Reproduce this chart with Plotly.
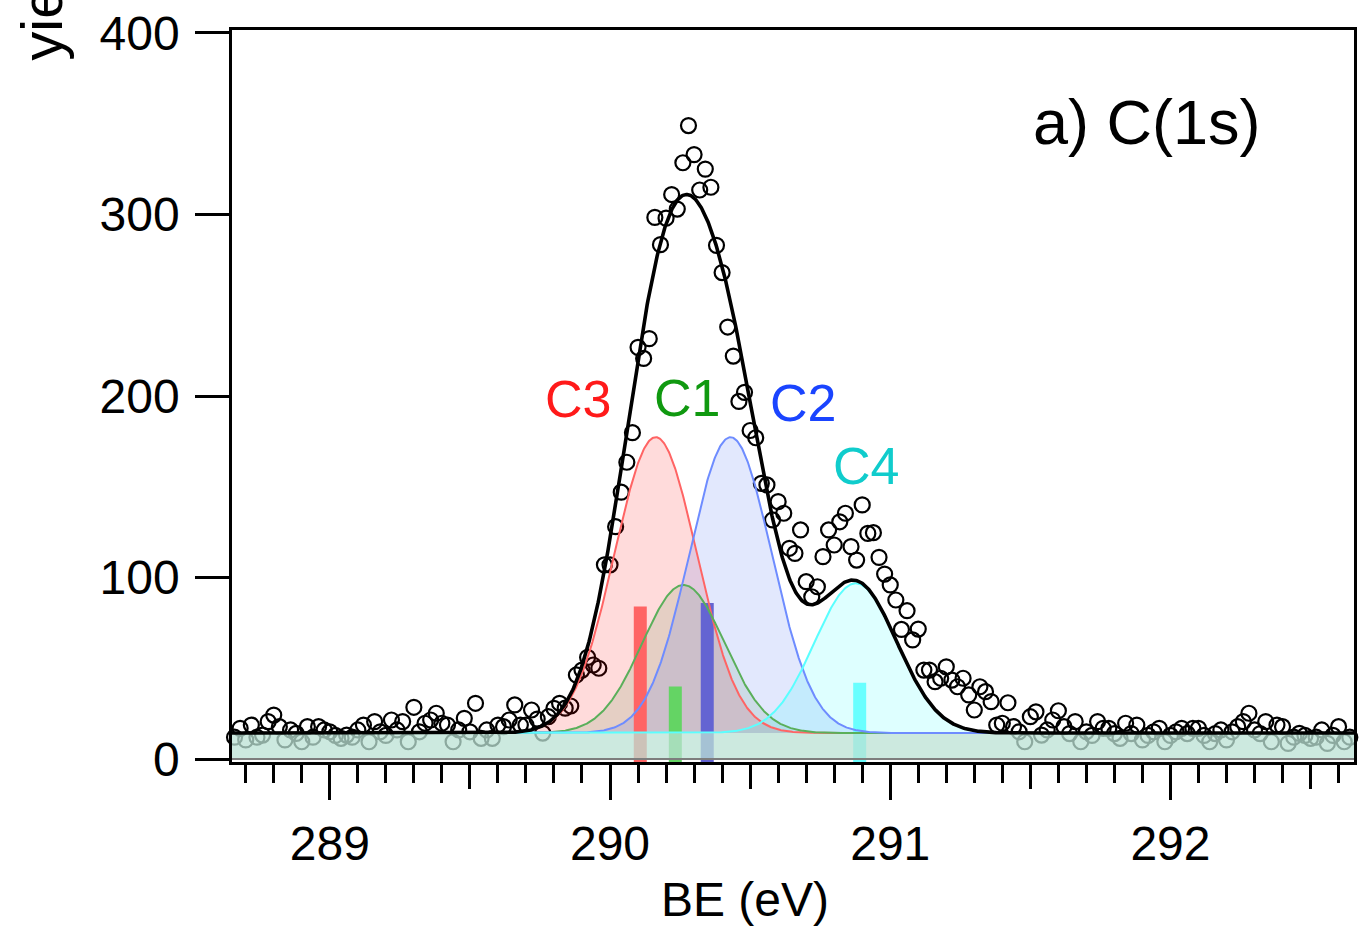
import numpy as np
import plotly.graph_objects as go

# ---------------- data ----------------
BE_START = 288.64      # eV, first data channel
BE_STEP = 0.02         # eV per channel
yield_counts = [
    8.6, 12, 16.9, 10.5, 18.7, 12, 13.2, 20.6, 24.2, 17.8,
    10.5, 16, 14.1, 9.5, 17.8, 12, 17.8, 16, 15, 13,
    11.4, 13.2, 12, 16, 18.7, 9.5, 20.6, 15, 13, 21.5,
    16, 20.6, 9.5, 28.5, 15, 19.7, 21.5, 25.2, 19.7, 18.7,
    9.5, 16, 22.4, 15, 30.7, 11.4, 16, 11.4, 18.7, 17.8,
    21.5, 29.8, 18.7, 18.7, 27, 22, 14.3, 23.3, 27.9, 30.7,
    28, 29.2, 46.3, 49, 56, 51.8, 50, 107, 107, 128,
    147, 163.5, 179.8, 226.8, 220.7, 231.6, 298.4, 283.4, 298, 311,
    303, 328.5, 349, 333, 313.5, 325, 315, 283, 268, 238,
    222, 197, 202, 181, 177, 151.9, 151, 131.7, 141.8, 135.4,
    116.1, 113.3, 126.2, 97.7, 89.4, 94.9, 111.5, 126.2, 117.9, 130.7,
    135.4, 117, 109.6, 140, 124.3, 124.7, 111.1, 101.9, 95.9, 87.6,
    71.4, 81.7, 65.6, 71.6, 49, 49, 42.6, 44.5, 50.8, 43.5,
    39.8, 44.5, 35.3, 27, 39.8, 37.1, 31.6, 18.7, 19.7, 31,
    17.8, 15, 9.5, 23.3, 26, 13.2, 16, 21.5, 26.6, 17.8,
    14, 20.6, 9.5, 15, 13, 20.6, 16.9, 16.9, 14, 11.4,
    19.7, 14, 18.7, 10.5, 13, 15, 16.9, 9.5, 13, 15,
    16.9, 14, 16.9, 16.9, 13, 9.5, 14, 16, 10.5, 15,
    17.8, 20.6, 25.2, 16, 14, 20.6, 9.5, 18.7, 17.8, 8.6,
    12, 14.1, 13, 11.4, 12, 16, 8.6, 13, 17.8, 9.5,
    12, 5,
]
be_data = [round(BE_START + BE_STEP * k, 3) for k in range(len(yield_counts))]

# Gaussian fit components
comp_names = ["C3", "C1", "C2", "C4"]
comp_center = [290.163, 290.262, 290.430, 290.877]
comp_amp = [163.0, 81.6, 163.0, 82.5]
comp_sigma = [0.147, 0.147, 0.147, 0.147]
baseline = 14.3

# stick positions and heights
stick_pos = [290.108, 290.233, 290.347, 290.891]
stick_height = [84, 40, 86, 42]

comp_line = ["rgb(255,100,100)", "rgb(90,175,90)", "rgb(110,140,255)", "rgb(90,255,255)"]
comp_fill = ["rgba(255,0,0,0.14)", "rgba(0,110,0,0.10)", "rgba(60,100,240,0.15)", "rgba(0,255,255,0.13)"]
stick_color = ["rgb(255,100,100)", "rgb(100,212,100)", "rgb(100,100,210)", "rgb(105,255,255)"]
label_color = ["#ff1a1a", "#109910", "#1a44ff", "#10cccc"]
label_pos = [(289.886, 198.3), (290.276, 199.0), (290.690, 196.0), (290.912, 161.4)]

XMIN, XMAX = 288.651, 292.655
YMIN, YMAX = -1.65, 401.65
FONT = "Liberation Sans, Arial, sans-serif"

# ---------------- model curves ----------------
xf = np.linspace(XMIN, XMAX, 1601)
comps = [a * np.exp(-(xf - c) ** 2 / (2 * s ** 2))
         for c, a, s in zip(comp_center, comp_amp, comp_sigma)]
total = baseline + np.sum(comps, axis=0)

fig = go.Figure()

# data points
fig.add_trace(go.Scatter(
    x=be_data, y=yield_counts, mode="markers", cliponaxis=False,
    marker=dict(symbol="circle-open", size=15, color="black",
                line=dict(width=2.2, color="black")),
    showlegend=False, hoverinfo="skip"))

# component fills (from baseline)
for comp, fc in zip(comps, comp_fill):
    fig.add_trace(go.Scatter(
        x=np.concatenate([xf, xf[::-1]]),
        y=np.concatenate([baseline + comp, np.full_like(xf, baseline)]),
        mode="lines", line=dict(width=0), fill="toself", fillcolor=fc,
        showlegend=False, hoverinfo="skip"))

# sticks (thick vertical segments, 13 px wide)
for p, h, sc in zip(stick_pos, stick_height, stick_color):
    fig.add_trace(go.Scatter(
        x=[p, p], y=[YMIN, h], mode="lines",
        line=dict(color=sc, width=13),
        showlegend=False, hoverinfo="skip"))

# background band
fig.add_trace(go.Scatter(
    x=[XMIN, XMAX, XMAX, XMIN], y=[0, 0, baseline, baseline],
    mode="lines", line=dict(width=0), fill="toself",
    fillcolor="rgba(187,225,212,0.75)", showlegend=False, hoverinfo="skip"))
fig.add_trace(go.Scatter(
    x=[XMIN, XMAX], y=[0, 0], mode="lines",
    line=dict(color="rgb(125,125,125)", width=2),
    showlegend=False, hoverinfo="skip"))

# component lines
for comp, lc in zip(comps, comp_line):
    fig.add_trace(go.Scatter(
        x=xf, y=baseline + comp, mode="lines", line=dict(color=lc, width=2),
        showlegend=False, hoverinfo="skip"))

# total fit
fig.add_trace(go.Scatter(
    x=xf, y=total, mode="lines", line=dict(color="black", width=3.6),
    showlegend=False, hoverinfo="skip"))

# invisible trace for half-tick axis
fig.add_trace(go.Scatter(x=[XMIN, XMAX], y=[0, 0], xaxis="x2", mode="lines",
                         line=dict(width=0), showlegend=False, hoverinfo="skip"))

annotations = [
    dict(x=291.915, y=351, xref="x", yref="y", text="a) C(1s)", showarrow=False,
         font=dict(family=FONT, size=63, color="black"), xanchor="center", yanchor="middle"),
    dict(x=-0.170, y=0.955, xref="paper", yref="paper", text="yield", showarrow=False,
         textangle=-90, font=dict(family=FONT, size=58, color="black"),
         xanchor="center", yanchor="bottom"),
    dict(x=290.48, y=-0.1885, xref="x", yref="paper", text="BE (eV)", showarrow=False,
         font=dict(family=FONT, size=48, color="black"), xanchor="center", yanchor="middle"),
]
for name, (lx, ly), col in zip(comp_names, label_pos, label_color):
    annotations.append(dict(x=lx, y=ly, xref="x", yref="y", text=name, showarrow=False,
                            font=dict(family=FONT, size=52, color=col),
                            xanchor="center", yanchor="middle"))

fig.update_layout(
    width=1362, height=928,
    margin=dict(l=232, r=5, t=30, b=166),
    paper_bgcolor="white", plot_bgcolor="white",
    font=dict(family=FONT, color="black"),
    annotations=annotations,
    xaxis=dict(
        range=[XMIN, XMAX], tickmode="array", tickvals=[289, 290, 291, 292],
        ticktext=["289", "290", "291", "292"],
        ticks="outside", ticklen=35, tickwidth=2.5, tickcolor="black",
        showline=True, linewidth=2.5, linecolor="black", mirror=True,
        showgrid=False, zeroline=False, ticklabelstandoff=3,
        tickfont=dict(family=FONT, size=48, color="black"),
        minor=dict(tickmode="linear", tick0=289, dtick=0.1, ticks="outside",
                   ticklen=18, tickwidth=2.5, tickcolor="black", showgrid=False),
    ),
    xaxis2=dict(
        range=[XMIN, XMAX], overlaying="x", anchor="y", side="bottom",
        tickmode="array", tickvals=[289.5, 290.5, 291.5, 292.5],
        ticks="outside", ticklen=26, tickwidth=2.5, tickcolor="black",
        showticklabels=False, showline=False, showgrid=False, zeroline=False,
    ),
    yaxis=dict(
        range=[YMIN, YMAX], tickmode="array", tickvals=[0, 100, 200, 300, 400],
        ticks="outside", ticklen=34, tickwidth=2.5, tickcolor="black",
        showline=True, linewidth=2.5, linecolor="black", mirror=True,
        showgrid=False, zeroline=False, ticklabelstandoff=6,
        tickfont=dict(family=FONT, size=48, color="black"),
    ),
)

fig.write_html("out.html")
